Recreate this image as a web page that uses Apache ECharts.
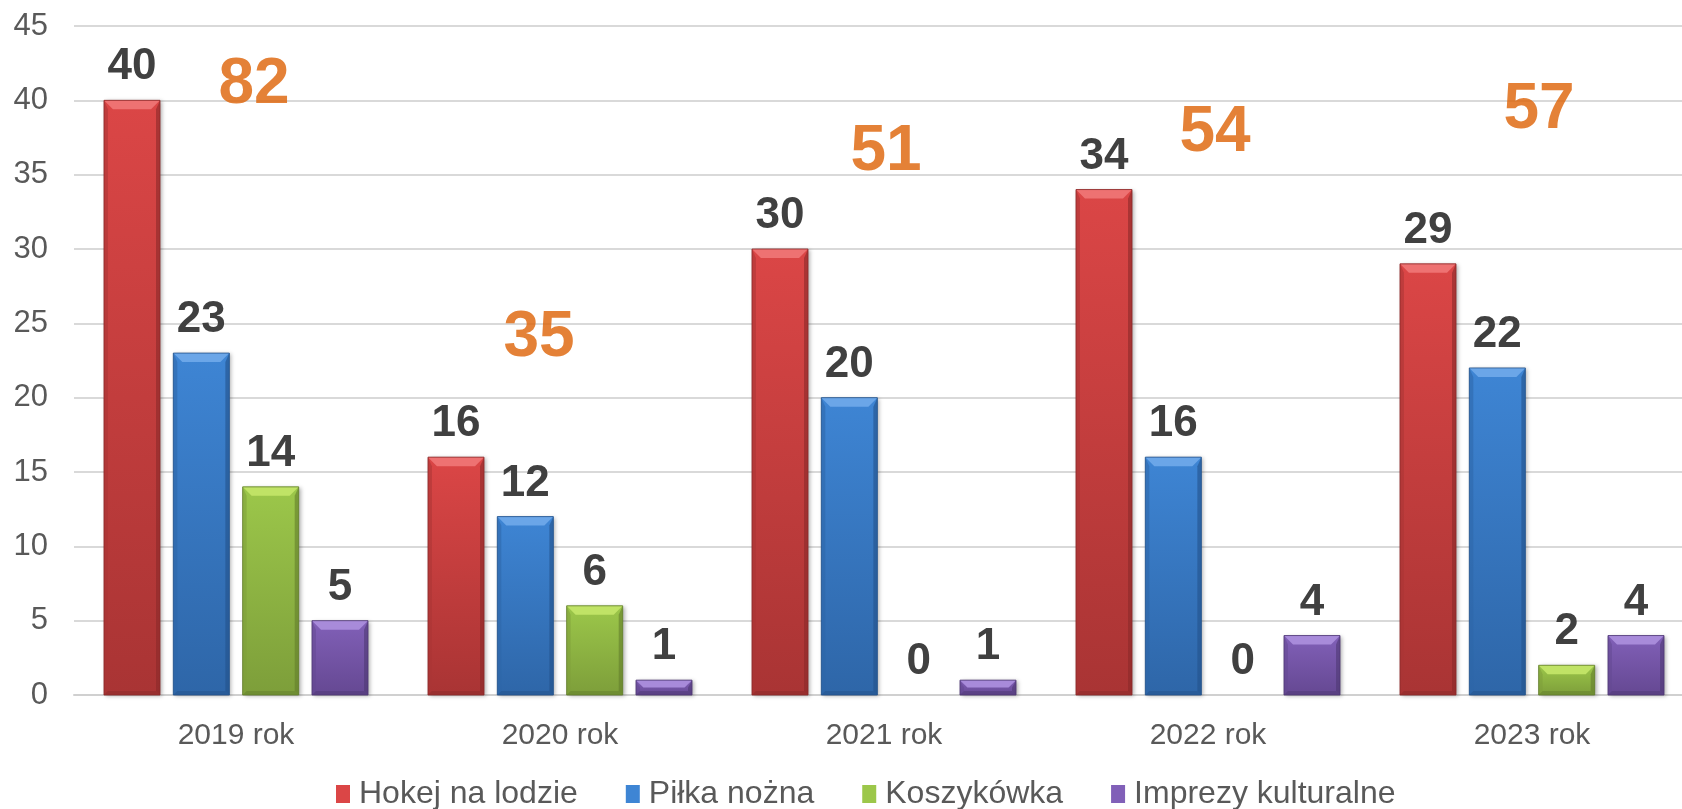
<!DOCTYPE html>
<html>
<head>
<meta charset="utf-8">
<title>Imprezy 2019-2023</title>
<script src="https://cdn.jsdelivr.net/npm/echarts@6/dist/echarts.min.js"></script>
<style>
  html, body { margin: 0; padding: 0; background: #fff; }
  #chart { width: 1682px; height: 809px; }
</style>
</head>
<body>
<div id="chart"></div>
<script>
// data
const years = ['2019 rok', '2020 rok', '2021 rok', '2022 rok', '2023 rok'];
const hokej = [40, 16, 30, 34, 29];
const pilka = [23, 12, 20, 16, 22];
const koszykowka = [14, 6, 0, 0, 2];
const imprezy = [5, 1, 1, 4, 4];
const seriesNames = ['Hokej na lodzie', 'Piłka nożna', 'Koszykówka', 'Imprezy kulturalne'];

const allSeries = [hokej, pilka, koszykowka, imprezy];
const totals = years.map((_, i) => allSeries.reduce((s, arr) => s + arr[i], 0));

// look of each bar colour: face, top bevel, bottom, edge
const palette = [
  { main: '#DB4646', light: '#EE7272', dark: '#A93434', edge: '#8A2929' },
  { main: '#3E85D4', light: '#6BA6E8', dark: '#2E66A8', edge: '#23518A' },
  { main: '#9CC74A', light: '#C0E366', dark: '#7D9E3A', edge: '#627D2C' },
  { main: '#8160B8', light: '#A88BDA', dark: '#654892', edge: '#4E3873' }
];

// where the orange totals sit (value height, x shift from category centre)
const totalAnchorY = [41.0, 24.0, 36.5, 37.8, 39.3];
const totalShiftX = [18, -21, 2, 7, 7];

const chart = echarts.init(document.getElementById('chart'));

function bevelBar(idx) {
  const c = palette[idx];
  return function (params, api) {
    const cat = api.value(0);
    const val = api.value(1);
    const band = api.size([1, 0])[0];
    const base = api.coord([cat, 0]);
    const top = api.coord([cat, val]);
    const w = band * 0.173;
    const step = band * 0.214;
    const cx = base[0] + (idx - 1.5) * step;
    const x = cx - w / 2;
    const y = top[1];
    const h = base[1] - top[1];
    const children = [];
    if (h > 0.5) {
      const b = Math.min(9, h / 2);
      const s = Math.min(4, h / 2);
      children.push({
        type: 'rect',
        shape: { x: x, y: y, width: w, height: h },
        style: {
          fill: new echarts.graphic.LinearGradient(0, 0, 0, 1, [
            { offset: 0, color: c.main },
            { offset: 1, color: c.dark }
          ]),
          shadowBlur: 4,
          shadowOffsetX: 2,
          shadowOffsetY: 1,
          shadowColor: 'rgba(0,0,0,0.3)'
        }
      });
      // top bevel
      children.push({
        type: 'polygon',
        shape: { points: [[x, y], [x + w, y], [x + w - b, y + b], [x + b, y + b]] },
        style: { fill: c.light }
      });
      // side bevels
      children.push({
        type: 'polygon',
        shape: { points: [[x, y], [x + s, y + b], [x + s, y + h - s], [x, y + h]] },
        style: { fill: c.dark, opacity: 0.55 }
      });
      children.push({
        type: 'polygon',
        shape: { points: [[x + w, y], [x + w - s, y + b], [x + w - s, y + h - s], [x + w, y + h]] },
        style: { fill: c.edge, opacity: 0.6 }
      });
      // bottom bevel
      children.push({
        type: 'polygon',
        shape: { points: [[x, y + h], [x + s, y + h - s], [x + w - s, y + h - s], [x + w, y + h]] },
        style: { fill: c.edge, opacity: 0.5 }
      });
      children.push({
        type: 'rect',
        shape: { x: x, y: y, width: w, height: h },
        style: { fill: 'none', stroke: c.edge, lineWidth: 1, opacity: 0.8 }
      });
    }
    children.push({
      type: 'text',
      style: {
        text: String(val),
        x: cx,
        y: y - 33,
        align: 'center',
        verticalAlign: 'middle',
        fontSize: 44,
        fontWeight: 'bold',
        fontFamily: 'Arial, "Liberation Sans", sans-serif',
        fill: '#404040'
      }
    });
    return { type: 'group', children: children };
  };
}

const barSeries = allSeries.map((arr, idx) => ({
  name: seriesNames[idx],
  type: 'custom',
  renderItem: bevelBar(idx),
  itemStyle: { color: palette[idx].main },
  encode: { x: 0, y: 1 },
  clip: false,
  silent: true,
  data: arr.map((v, i) => [i, v])
}));

const totalSeries = {
  name: 'Razem',
  type: 'scatter',
  symbolSize: 0,
  silent: true,
  z: 5,
  data: totals.map((t, i) => ({
    value: [i, totalAnchorY[i]],
    label: { offset: [totalShiftX[i], 0] }
  })),
  label: {
    show: true,
    position: 'inside',
    formatter: (p) => String(totals[p.dataIndex]),
    fontSize: 64,
    fontWeight: 'bold',
    fontFamily: 'Arial, "Liberation Sans", sans-serif',
    color: '#DD6205'
  }
};

const option = {
  animation: false,
  backgroundColor: '#ffffff',
  grid: { left: 74, top: 26, width: 1620, bottom: 114, outerBoundsMode: 'none' },
  legend: {
    data: seriesNames,
    left: 336,
    top: 778,
    padding: 0,
    icon: 'rect',
    itemWidth: 14,
    itemHeight: 18,
    itemGap: 48,
    textStyle: {
      fontSize: 32,
      color: '#595959',
      fontFamily: 'Arial, "Liberation Sans", sans-serif',
      padding: [0, 0, 0, 4]
    }
  },
  xAxis: {
    type: 'category',
    data: years,
    axisTick: { show: false },
    axisLine: { lineStyle: { color: '#D0D0D0', width: 2 } },
    axisLabel: {
      fontSize: 30,
      color: '#595959',
      margin: 26,
      fontFamily: 'Arial, "Liberation Sans", sans-serif'
    }
  },
  yAxis: {
    type: 'value',
    min: 0,
    max: 45,
    interval: 5,
    axisLine: { show: false },
    axisTick: { show: false },
    axisLabel: {
      fontSize: 31,
      color: '#595959',
      margin: 26,
      fontFamily: 'Arial, "Liberation Sans", sans-serif'
    },
    splitLine: { lineStyle: { color: '#D9D9D9', width: 2 } }
  },
  series: barSeries.concat([totalSeries])
};

chart.setOption(option);
</script>
</body>
</html>
